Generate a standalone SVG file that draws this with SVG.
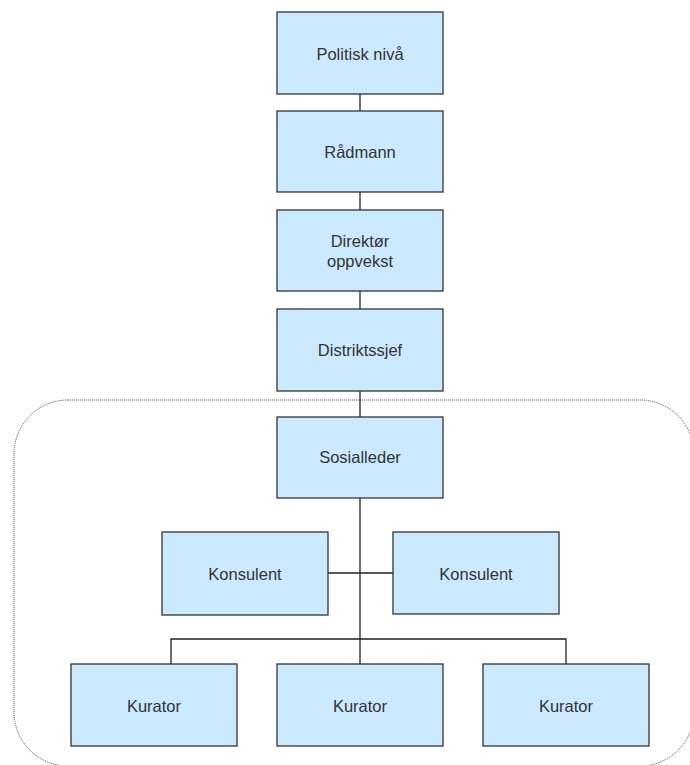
<svg xmlns="http://www.w3.org/2000/svg" width="690" height="765" viewBox="0 0 690 765">
<style>
.box{fill:#cceaff;stroke:#333;stroke-width:1.3}
.lbl{font-family:"Liberation Sans",Arial,sans-serif;font-size:16.5px;fill:#333;text-anchor:middle}
.ln{stroke:#222;stroke-width:1.3;fill:none}
.grp{fill:none;stroke:#444;stroke-width:1;stroke-dasharray:1,1}
</style>
<rect fill="#fff" x="0" y="0" width="690" height="765"/>
<rect id="group-frame" class="grp" x="14" y="400" width="680" height="366" rx="54" ry="54"/>
<g id="connectors">
<line class="ln" x1="360" y1="94" x2="360" y2="111"/>
<line class="ln" x1="360" y1="192" x2="360" y2="210"/>
<line class="ln" x1="360" y1="291" x2="360" y2="309"/>
<line class="ln" x1="360" y1="391" x2="360" y2="417"/>
<line class="ln" x1="360" y1="498" x2="360" y2="664"/>
<line class="ln" x1="328" y1="573" x2="393" y2="573"/>
<polyline class="ln" points="171,664 171,639 566,639 566,664"/>
</g>
<g id="politisk"><rect class="box" x="277" y="12" width="166" height="82"/><text class="lbl" x="360" y="60">Politisk nivå</text></g>
<g id="radmann"><rect class="box" x="277" y="111" width="166" height="81"/><text class="lbl" x="360" y="158">Rådmann</text></g>
<g id="direktor"><rect class="box" x="277" y="210" width="166" height="81"/><text class="lbl" x="360" y="247">Direktør</text><text class="lbl" x="360" y="267">oppvekst</text></g>
<g id="distriktssjef"><rect class="box" x="277" y="309" width="166" height="82"/><text class="lbl" x="360" y="356">Distriktssjef</text></g>
<g id="sosialleder"><rect class="box" x="277" y="417" width="166" height="81"/><text class="lbl" x="360" y="463">Sosialleder</text></g>
<g id="konsulent1"><rect class="box" x="162" y="532" width="166" height="83"/><text class="lbl" x="245" y="580">Konsulent</text></g>
<g id="konsulent2"><rect class="box" x="393" y="532" width="166" height="82"/><text class="lbl" x="476" y="580">Konsulent</text></g>
<g id="kurator1"><rect class="box" x="71" y="664" width="166" height="82"/><text class="lbl" x="154" y="712">Kurator</text></g>
<g id="kurator2"><rect class="box" x="277" y="664" width="166" height="82"/><text class="lbl" x="360" y="712">Kurator</text></g>
<g id="kurator3"><rect class="box" x="483" y="664" width="166" height="82"/><text class="lbl" x="566" y="712">Kurator</text></g>
</svg>
